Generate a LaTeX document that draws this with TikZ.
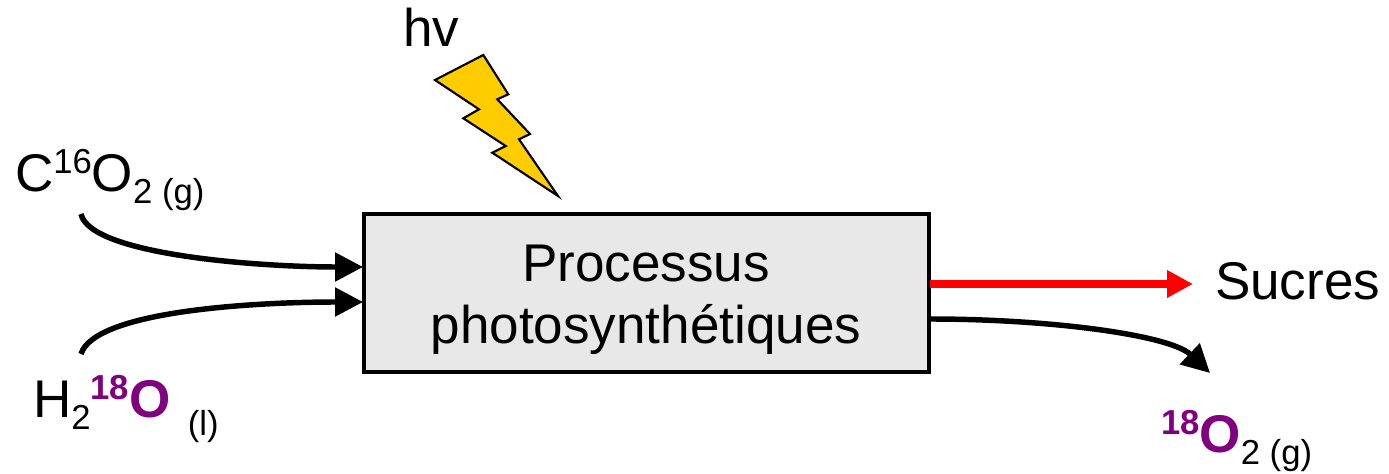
\documentclass[tikz,border=0pt]{standalone}
\usepackage{fontspec}
\setmainfont{Liberation Sans}
\usetikzlibrary{arrows.meta}
\definecolor{boltfill}{HTML}{FFCC00}
\definecolor{boxfill}{HTML}{E8E8E8}
\definecolor{isotope}{HTML}{800080}
\newcommand{\lrgtxt}{\fontsize{39.8}{47}\selectfont}
\newcommand{\smltxt}{\fontsize{26}{30}\selectfont}
\newcommand{\uptxt}[1]{\raisebox{13.5pt}{\smltxt #1}}
\newcommand{\dntxt}[2][9pt]{\raisebox{-#1}{\smltxt #2}}
\newcommand{\isotop}[1]{\textcolor{isotope}{\bfseries\uptxt{#1}}}
\tikzset{
  x=0.75pt,y=-0.75pt,
  lbl/.style={inner sep=0pt,outer sep=0pt,anchor=base west,font=\lrgtxt},
  flow/.style={line width=4.1pt,-{Triangle[length=21pt,width=21pt]}},
  inflow/.style={flow,shorten >=0pt},
  redflow/.style={draw=red,line width=6.4pt,-{Triangle[length=19.5pt,width=19.5pt]}},
  procbox/.style={draw=black,line width=3pt,fill=boxfill,minimum width=423.5pt,minimum height=118.5pt,inner sep=0pt},
  proctext/.style={inner sep=0pt,align=center,font=\lrgtxt},
  bolt/.style={draw=black,line width=1.6pt,fill=boltfill,line join=miter}
}
\begin{document}
\begin{tikzpicture}
\useasboundingbox (0,0) rectangle (1389,474);
\node[procbox] (box) at (646.5,293) {};
\node[proctext] (proc) at (646,300) {Processus\hspace{15pt}\\[-0.5pt]photosynthétiques};
\draw[bolt] (483.3,55) -- (508.3,94.3) -- (497.3,99.3) -- (530,134) -- (519,139.3) -- (558,196) -- (492.3,152.7) -- (505.7,146) -- (463.3,118.3) -- (479,109.3) -- (435,80) -- cycle;
\node[lbl] (hv) at (403,47) {hv};
\node[lbl] (co2) at (15,192) {C\uptxt{16}O\dntxt{2 (g)}};
\node[lbl] (h2o) at (33,417) {H\dntxt{2}\isotop{18}\textcolor{isotope}{\bfseries O}\hspace{13pt}\dntxt[13.5pt]{(l)}};
\node[lbl] (sucres) at (1215,299) {Sucres};
\node[lbl] (o2) at (1161,452) {\isotop{18}\textcolor{isotope}{\bfseries O}\dntxt{2 (g)}};
\coordinate (co2start) at (81,214);
\coordinate (co2end) at (363,267);
\coordinate (h2ostart) at (81,354);
\coordinate (h2oend) at (363,302);
\coordinate (redstart) at (930,284);
\coordinate (redend) at (1193,284);
\coordinate (o2start) at (930,319);
\coordinate (o2end) at (1210,373);
\draw[inflow] (co2start) .. controls (90,255) and (260,267) .. (co2end);
\draw[inflow] (h2ostart) .. controls (95,310) and (260,302) .. (h2oend);
\draw[redflow] (redstart) -- (redend);
\draw[flow] (o2start) .. controls (1050,319) and (1170,335) .. (o2end);
\end{tikzpicture}
\end{document}
